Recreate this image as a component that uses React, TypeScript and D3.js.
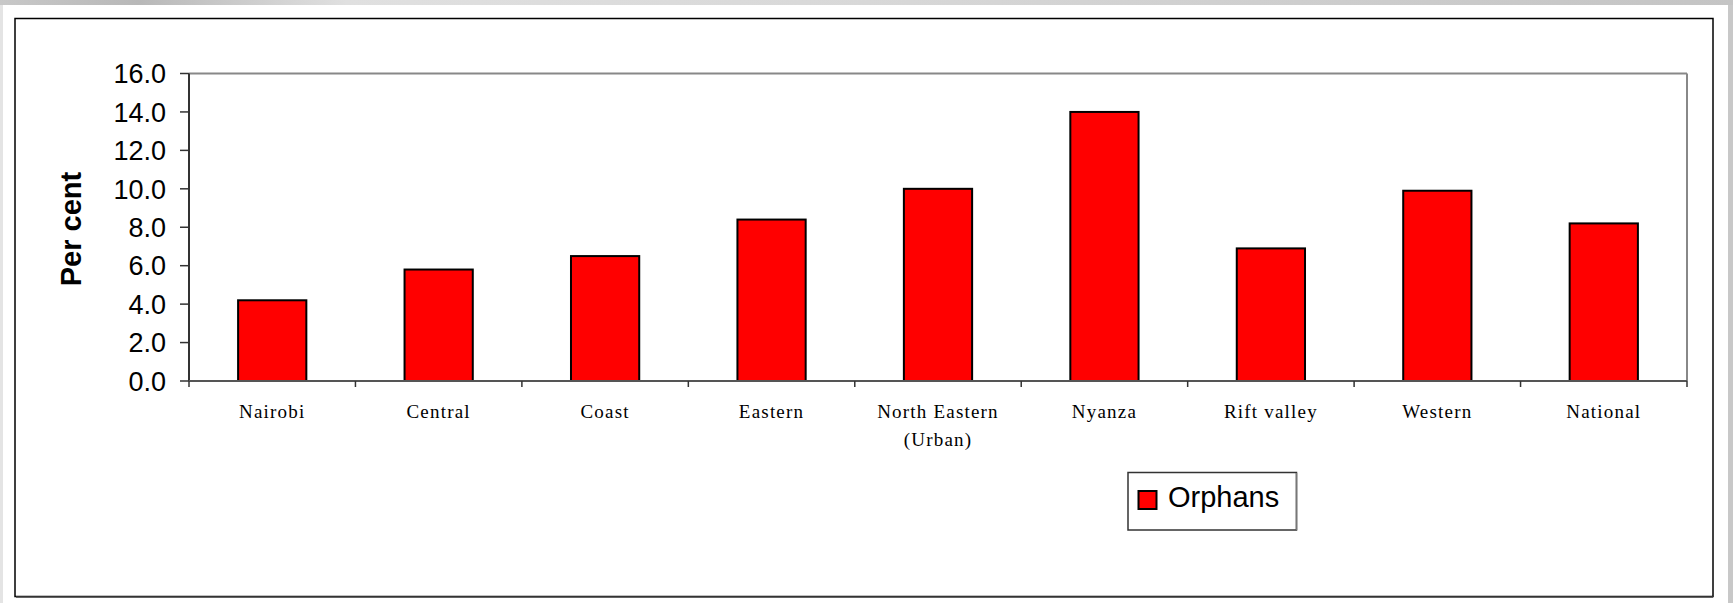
import React from "react";
import * as d3 from "d3";

const categories: string[][] = [
  ["Nairobi"],
  ["Central"],
  ["Coast"],
  ["Eastern"],
  ["North Eastern", "(Urban)"],
  ["Nyanza"],
  ["Rift valley"],
  ["Western"],
  ["National"],
];
const orphans: number[] = [4.2, 5.8, 6.5, 8.4, 10.0, 14.0, 6.9, 9.9, 8.2];
const yTicks: number[] = [0, 2, 4, 6, 8, 10, 12, 14, 16];
const seriesName = "Orphans";
const yTitle = "Per cent";

const W = 1733;
const H = 603;
const plot = { left: 189, right: 1687, top: 73.5, bottom: 381 };

export default function App() {
  const keys = categories.map((c) => c.join(" "));
  const x = d3
    .scaleBand<string>()
    .domain(keys)
    .range([plot.left, plot.right])
    .paddingInner(0.59)
    .paddingOuter(0.295);
  const step = x.step();
  const y = d3.scaleLinear().domain([0, 16]).range([plot.bottom, plot.top]);

  const boundaries = d3.range(categories.length + 1).map((i) => plot.left + i * step);

  return (
    <svg
      width={W}
      height={H}
      style={{ position: "absolute", left: 0, top: 0, display: "block" }}
    >
      <defs>
        <linearGradient id="topg" x1="0" x2="1" y1="0" y2="0">
          <stop offset="0" stopColor="#c8c8c8" />
          <stop offset="0.08" stopColor="#b8b8b8" />
          <stop offset="0.2" stopColor="#e0e0e0" />
          <stop offset="0.5" stopColor="#d8d8d8" />
          <stop offset="1" stopColor="#c4c4c4" />
        </linearGradient>
      </defs>
      <rect x={0} y={0} width={W} height={H} fill="#c8c8c8" />
      <rect x={0} y={0} width={W} height={5} fill="url(#topg)" />
      <rect x={0} y={5} width={3} height={H} fill="#e4e4e4" />
      <rect x={3} y={5} width={1725} height={H - 5} fill="#ffffff" />

      {/* outer chart frame */}
      <rect x={15} y={18.5} width={1698} height={578} fill="#ffffff" stroke="#000" strokeWidth={1.5} />
      <line x1={16} y1={597} x2={1713} y2={597} stroke="#444" strokeWidth={1.5} />

      {/* plot area border */}
      <line x1={plot.left} y1={plot.top} x2={plot.right} y2={plot.top} stroke="#888" strokeWidth={2} />
      <line x1={plot.right} y1={plot.top} x2={plot.right} y2={plot.bottom} stroke="#888" strokeWidth={2} />

      {/* bars */}
      {orphans.map((v, i) => (
        <rect
          key={i}
          x={x(keys[i])!}
          y={y(v)}
          width={x.bandwidth()}
          height={y(0) - y(v)}
          fill="#ff0000"
          stroke="#000"
          strokeWidth={2}
        />
      ))}

      {/* axes */}
      <line x1={plot.left} y1={plot.top} x2={plot.left} y2={plot.bottom} stroke="#333" strokeWidth={2} />
      <line x1={plot.left} y1={plot.bottom} x2={plot.right} y2={plot.bottom} stroke="#555" strokeWidth={2} />

      {yTicks.map((t) => (
        <g key={t}>
          <line x1={plot.left - 9} x2={plot.left} y1={y(t)} y2={y(t)} stroke="#333" strokeWidth={1.5} />
          <text
            x={166}
            y={y(t)}
            dy="0.36em"
            textAnchor="end"
            fontFamily="Liberation Sans, Arial, sans-serif"
            fontSize={27}
            fill="#000"
          >
            {t.toFixed(1)}
          </text>
        </g>
      ))}

      {boundaries.map((bx, i) => (
        <line key={i} x1={bx} x2={bx} y1={plot.bottom} y2={plot.bottom + 6} stroke="#333" strokeWidth={1.5} />
      ))}

      {categories.map((lines, i) => (
        <text
          key={i}
          x={x(keys[i])! + x.bandwidth() / 2}
          y={418}
          textAnchor="middle"
          fontFamily="Liberation Serif, Times New Roman, serif"
          fontSize={19}
          letterSpacing={1.2}
          fill="#000"
        >
          {lines.map((l, j) => (
            <tspan key={j} x={x(keys[i])! + x.bandwidth() / 2} dy={j === 0 ? 0 : 28}>
              {l}
            </tspan>
          ))}
        </text>
      ))}

      {/* y title */}
      <text
        transform={`translate(81,229) rotate(-90)`}
        textAnchor="middle"
        fontFamily="Liberation Sans, Arial, sans-serif"
        fontWeight="bold"
        fontSize={29}
        fill="#000"
      >
        {yTitle}
      </text>

      {/* legend */}
      <rect x={1128} y={472.5} width={168.5} height={57.5} fill="#fff" stroke="#333" strokeWidth={1.5} />
      <line x1={1296.5} y1={473} x2={1296.5} y2={530} stroke="#777" strokeWidth={1.5} />
      <rect x={1138.5} y={491} width={18} height={18} fill="#ff0000" stroke="#000" strokeWidth={2} />
      <text
        x={1168}
        y={507}
        fontFamily="Liberation Sans, Arial, sans-serif"
        fontSize={29}
        fill="#000"
      >
        {seriesName}
      </text>
    </svg>
  );
}
